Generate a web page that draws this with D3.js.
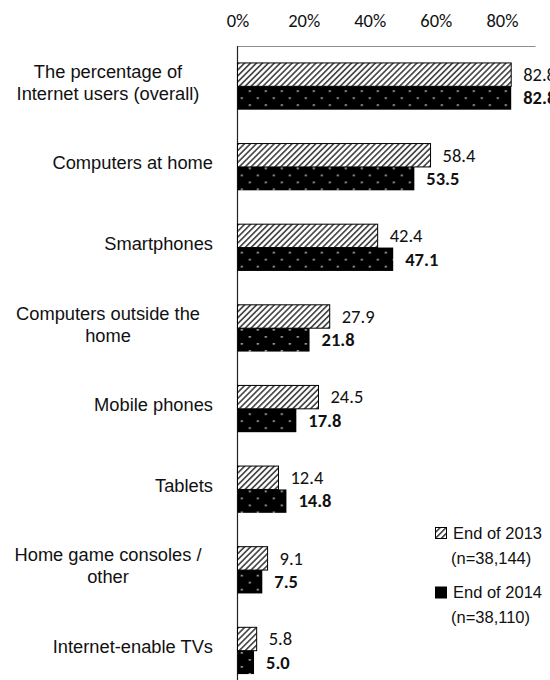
<!DOCTYPE html>
<html>
<head>
<meta charset="utf-8">
<script src="https://cdn.jsdelivr.net/npm/d3@7"></script>
<style>
  html, body { margin: 0; padding: 0; background: #fff; }
  svg { display: block; }
</style>
</head>
<body>
<div id="chart"></div>
<script>
// Internet access by device, end of 2013 vs end of 2014 (%)
const categories = [
  "The percentage of\nInternet users (overall)",
  "Computers at home",
  "Smartphones",
  "Computers outside the\nhome",
  "Mobile phones",
  "Tablets",
  "Home game consoles /\nother",
  "Internet-enable TVs"
];
const values2013 = [82.8, 58.4, 42.4, 27.9, 24.5, 12.4, 9.1, 5.8];
const values2014 = [82.8, 53.5, 47.1, 21.8, 17.8, 14.8, 7.5, 5.0];
const tickValues = [0, 20, 40, 60, 80];
const seriesKeys = ["2013", "2014"];
const legendLabels = [
  ["End of 2013", "(n=38,144)"],
  ["End of 2014", "(n=38,110)"]
];

const W = 550, H = 680;
const numFont = "Carlito, Calibri, Lato, sans-serif";
const textFont = "'Liberation Sans', Arial, sans-serif";
const numSize = 18.5;

const svg = d3.select("#chart").append("svg")
  .attr("width", W).attr("height", H);

const x = d3.scaleLinear().domain([0, 90]).range([237.5, 535]);
const y = d3.scaleBand().domain(categories)
  .range([46, 691]).paddingInner(0.42).paddingOuter(0.21);
const sub = d3.scaleBand().domain(seriesKeys).range([0, y.bandwidth()]);

const defs = svg.append("defs");

// diagonal hatch for the 2013 series
const hatch = defs.append("pattern")
  .attr("id", "hatch")
  .attr("patternUnits", "userSpaceOnUse")
  .attr("width", 4.2).attr("height", 4.2)
  .attr("patternTransform", "rotate(45)");
hatch.append("rect").attr("width", 4.2).attr("height", 4.2).attr("fill", "#fff");
hatch.append("rect").attr("x", 0).attr("width", 1.7).attr("height", 4.2).attr("fill", "#4a4a4a");

// staggered dots on black for the 2014 series, one tile per bar
const rows = categories.map((c, i) => ({ c, i, top: y(c) + sub("2014") }));
const dots = defs.selectAll("pattern.dots").data(rows).join("pattern")
  .attr("class", "dots")
  .attr("id", d => "dots" + d.i)
  .attr("patternUnits", "userSpaceOnUse")
  .attr("x", x(0)).attr("y", d => d.top)
  .attr("width", 16).attr("height", 14);
dots.append("rect").attr("width", 16).attr("height", 14).attr("fill", "#000");
dots.append("rect").attr("x", 3.5).attr("y", 4).attr("width", 1.7).attr("height", 1.7).attr("fill", "#d0d0d0");
dots.append("rect").attr("x", 11.5).attr("y", 11).attr("width", 1.7).attr("height", 1.7).attr("fill", "#d0d0d0");

// top axis
const axis = d3.axisTop(x)
  .tickValues(tickValues)
  .tickFormat(d => d + "%")
  .tickSize(0).tickSizeOuter(0).tickPadding(19);
const gAxis = svg.append("g").attr("transform", "translate(0,46)").call(axis);
gAxis.select(".domain").attr("stroke", "#8c8c8c").attr("stroke-width", 1);
gAxis.selectAll(".tick text")
  .attr("font-family", numFont).attr("font-size", numSize).attr("fill", "#111");

// vertical category axis
svg.append("line")
  .attr("x1", x(0)).attr("x2", x(0))
  .attr("y1", 46).attr("y2", H)
  .attr("stroke", "#222").attr("stroke-width", 1.2);

// bars
const groups = svg.append("g").selectAll("g").data(categories).join("g")
  .attr("transform", d => `translate(0,${y(d)})`);

groups.append("rect")
  .attr("x", x(0))
  .attr("y", sub("2013"))
  .attr("width", (d, i) => x(values2013[i]) - x(0))
  .attr("height", sub.bandwidth())
  .attr("fill", "url(#hatch)")
  .attr("stroke", "#000").attr("stroke-width", 1);

groups.append("rect")
  .attr("x", x(0))
  .attr("y", sub("2014"))
  .attr("width", (d, i) => x(values2014[i]) - x(0))
  .attr("height", sub.bandwidth())
  .attr("fill", (d, i) => `url(#dots${i})`);

// value labels
groups.append("text")
  .attr("x", (d, i) => x(values2013[i]) + 12)
  .attr("y", sub("2013") + sub.bandwidth() / 2)
  .attr("dy", "0.34em")
  .attr("font-family", numFont).attr("font-size", numSize).attr("fill", "#111")
  .text((d, i) => values2013[i].toFixed(1));

groups.append("text")
  .attr("x", (d, i) => x(values2014[i]) + 12)
  .attr("y", sub("2014") + sub.bandwidth() / 2)
  .attr("dy", "0.34em")
  .attr("font-family", numFont).attr("font-size", numSize)
  .attr("font-weight", "bold").attr("fill", "#111")
  .text((d, i) => values2014[i].toFixed(1));

// category labels: single lines right-aligned, wrapped labels centred
svg.append("g").selectAll("text").data(categories).join("text")
  .attr("font-family", textFont).attr("font-size", 18.3).attr("fill", "#111")
  .each(function (d) {
    const lines = d.split("\n");
    const t = d3.select(this);
    const cy = y(d) + y.bandwidth() / 2 - 4;
    const multi = lines.length > 1;
    t.attr("text-anchor", multi ? "middle" : "end");
    lines.forEach((ln, k) => {
      t.append("tspan")
        .attr("x", multi ? 108 : 213)
        .attr("y", cy + (k - (lines.length - 1) / 2) * 22)
        .attr("dy", "0.35em")
        .text(ln);
    });
  });

// legend
const legend = svg.append("g");
const legendY = [533, 592.5];
legendLabels.forEach((lab, i) => {
  const g = legend.append("g").attr("transform", `translate(0,${legendY[i]})`);
  g.append("rect")
    .attr("x", 435.5).attr("y", -5.5).attr("width", 11).attr("height", 11)
    .attr("fill", i === 0 ? "url(#hatch)" : "#000")
    .attr("stroke", "#000").attr("stroke-width", 1);
  g.append("text").attr("x", 453).attr("y", 0).attr("dy", "0.35em")
    .attr("font-family", textFont).attr("font-size", 16.5).attr("fill", "#111")
    .text(lab[0]);
  g.append("text").attr("x", 451).attr("y", 25).attr("dy", "0.35em")
    .attr("font-family", textFont).attr("font-size", 16.5).attr("fill", "#111")
    .text(lab[1]);
});
</script>
</body>
</html>
